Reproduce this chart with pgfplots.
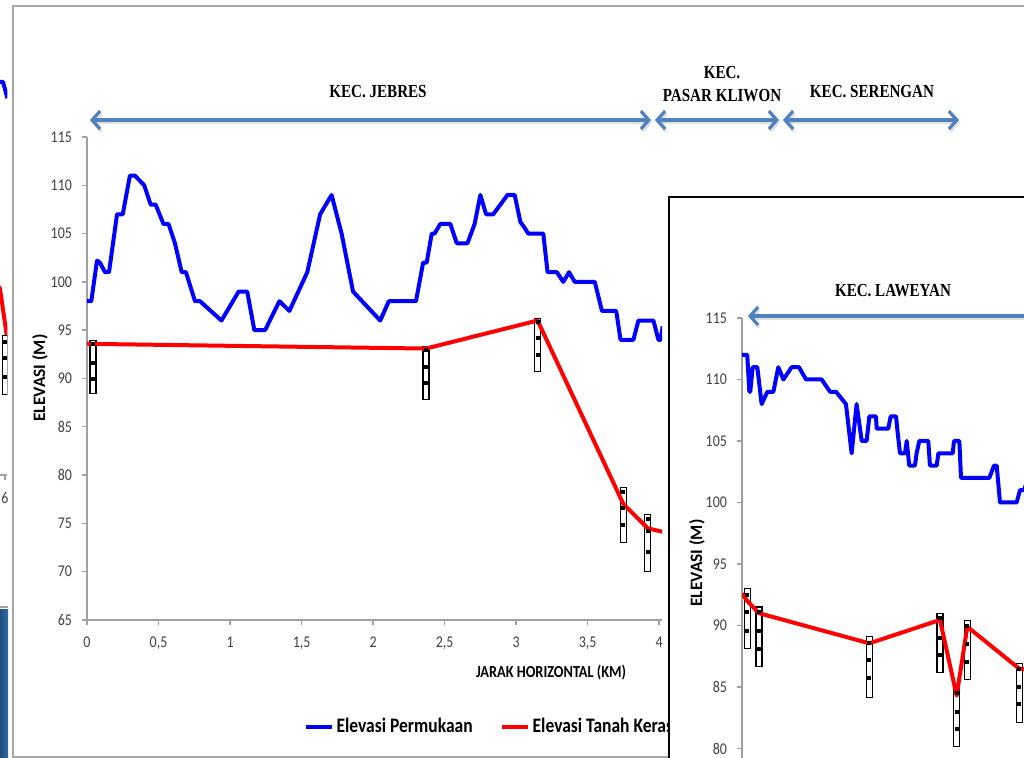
\documentclass[border=0pt]{standalone}
\usepackage{fontspec}
\setmainfont{Carlito}[FakeStretch=0.85]
\newfontfamily\ylfont{Carlito}
\newfontfamily\serifc{Liberation Serif}[FakeStretch=0.82]
\usepackage{pgfplots}
\pgfplotsset{compat=1.18}
\usetikzlibrary{arrows.meta}
\definecolor{arrowblue}{HTML}{4F81BD}
\definecolor{axgray}{HTML}{A0A0A0}
\definecolor{ticktext}{HTML}{404040}
\definecolor{slideblue}{HTML}{1F4E7E}
\definecolor{slideblueL}{HTML}{2F6DA6}

\pgfplotsset{
  elevstyle/.style={
    scale only axis,
    axis x line*=bottom, axis y line*=left,
    axis line style={axgray, line width=0.7pt},
    tick style={axgray, line width=0.7pt},
    tick align=outside, major tick length=2.5pt,
    ticklabel style={font=\fontsize{8.2}{9}\selectfont, text=ticktext},
    xticklabel style={yshift=-2.5pt},
    yticklabel style={xshift=-1.5pt},
    /pgf/number format/assume math mode=true,
    /pgf/number format/use comma,
    /pgf/number format/1000 sep={},
  },
  bluel/.style={color=blue, line width=2pt, line join=round},
  redl/.style={color=red, line width=2pt, line join=round},
  bh/.style={draw=black, fill=white, line width=0.55pt, forget plot},
  bhm/.style={only marks, mark=square*, mark size=0.75pt, black, forget plot},
}

\begin{document}
\begin{tikzpicture}
\useasboundingbox (0,0) rectangle (512pt,379pt);
\clip (0,0) rectangle (512pt,379pt);

% ---------- left sliver (neighbouring chart) ----------
\fill[left color=slideblue, right color=slideblueL] (0pt,0pt) rectangle (4pt,74pt);
\draw[axgray, line width=0.6pt] (0pt,75.5pt) -- (4pt,75.5pt);
\begin{axis}[elevstyle, at={(-69pt,141.5pt)}, anchor=south west,
  width=72.7pt, height=241.5pt, xmin=5, xmax=6.017, ymin=65, ymax=115,
  xtick={6}, ytick=\empty]
\addplot[bluel] coordinates {(5.95,105.7) (5.986,105.7) (6.017,104.0)};
\addplot[redl] coordinates {(5.95,84.6) (5.965,84.3) (6.014,79.3)};
\addplot[bh] coordinates {(5.985,79.4) (6.015,79.4) (6.015,73.3) (5.985,73.3)} -- cycle;
\addplot[bhm] coordinates {(6.0,78.8) (6.0,77.1) (6.0,75.2)};
\end{axis}

% ---------- main frame ----------
\draw[gray!70, line width=0.7pt] (6.5pt,0.5pt) rectangle (560pt,376pt);

% ---------- main chart ----------
\begin{axis}[elevstyle, at={(43.5pt,69pt)}, anchor=south west,
  width=287.5pt, height=241.5pt,
  xmin=0, xmax=4.02, ymin=65, ymax=115,
  xtick={0,0.5,1,1.5,2,2.5,3,3.5,4},
  ytick={65,70,75,80,85,90,95,100,105,110,115},
  xlabel={JARAK HORIZONTAL (KM)},
  xlabel style={at={(axis description cs:0.807,-0.1097)}, anchor=center,
    font=\bfseries\fontsize{8.4}{9}\selectfont},
  ylabel={ELEVASI (M)},
  ylabel style={at={(axis description cs:-0.0817,0.501)}, anchor=center,
    font=\ylfont\bfseries\fontsize{8.7}{9}\selectfont},
  legend style={at={(axis description cs:0.376,-0.2215)}, anchor=west,
    draw=none, fill=none, inner sep=0pt, legend columns=2,
    font=\bfseries\fontsize{10.3}{12}\selectfont,
    nodes={inner xsep=1.5pt},
    /tikz/every even column/.append style={column sep=12pt}},
  legend image code/.code={\draw[#1] (0pt,0pt) -- (13pt,0pt);},
]
\addplot[bluel] coordinates {
(0,98) (0.03,98) (0.07,102.2) (0.09,102) (0.126,101) (0.154,101) (0.21,107)
(0.25,107) (0.30,111) (0.335,111) (0.40,110) (0.445,108) (0.48,108) (0.534,106)
(0.57,106) (0.615,104) (0.662,101) (0.692,101) (0.755,98) (0.79,98) (0.94,96)
(1.06,99) (1.12,99) (1.17,95) (1.245,95) (1.345,98) (1.415,97) (1.54,101)
(1.63,107) (1.71,109) (1.78,105) (1.86,99) (2.05,96) (2.11,98) (2.30,98)
(2.35,102) (2.375,102) (2.41,105) (2.43,105) (2.47,106) (2.54,106) (2.585,104)
(2.66,104) (2.71,106) (2.75,109) (2.79,107) (2.84,107) (2.94,109) (2.99,109)
(3.03,106.2) (3.05,105.8) (3.085,105) (3.19,105) (3.22,101) (3.285,101)
(3.33,100) (3.37,101) (3.41,100) (3.55,100) (3.60,97) (3.70,97) (3.73,94)
(3.82,94) (3.855,96) (3.96,96) (3.995,94) (4.01,94) (4.025,95.4)};
\addlegendentry{Elevasi Permukaan}
% boreholes
\addplot[bh] coordinates {(0.021,93.9) (0.063,93.9) (0.063,88.4) (0.021,88.4)} -- cycle;
\addplot[bh] coordinates {(2.349,93.3) (2.391,93.3) (2.391,87.8) (2.349,87.8)} -- cycle;
\addplot[bh] coordinates {(3.129,96.2) (3.171,96.2) (3.171,90.7) (3.129,90.7)} -- cycle;
\addplot[bh] coordinates {(3.729,78.7) (3.771,78.7) (3.771,73.0) (3.729,73.0)} -- cycle;
\addplot[bh] coordinates {(3.899,75.9) (3.941,75.9) (3.941,70.0) (3.899,70.0)} -- cycle;
\addplot[redl] coordinates {
(0,93.6) (0.042,93.58) (2.37,93.1) (3.15,96.0) (3.75,77.0) (3.92,74.5) (4.03,74.1)};
\addlegendentry{Elevasi Tanah Keras}
\addplot[bhm] coordinates {
(0.042,93.6) (0.042,91.6) (0.042,90.0)
(2.37,93.0) (2.37,91.2) (2.37,89.5)
(3.15,95.9) (3.15,94.2) (3.15,92.4)
(3.75,78.3) (3.75,76.6) (3.75,74.8)
(3.92,75.5) (3.92,74.2) (3.92,72.1)};
\end{axis}

% ---------- district arrows (main) ----------
\begin{scope}[line width=1.6pt, arrows={Straight Barb[length=4pt,width=9pt]-Straight Barb[length=4pt,width=9pt]}]
\draw[black!12, shift={(0.6pt,-1.2pt)}] (45pt,319pt) -- (325.5pt,319pt);
\draw[black!12, shift={(0.6pt,-1.2pt)}] (327.5pt,319pt) -- (389.5pt,319pt);
\draw[black!12, shift={(0.6pt,-1.2pt)}] (391.5pt,319pt) -- (479.5pt,319pt);
\draw[arrowblue] (45pt,319pt) -- (325.5pt,319pt);
\draw[arrowblue] (327.5pt,319pt) -- (389.5pt,319pt);
\draw[arrowblue] (391.5pt,319pt) -- (479.5pt,319pt);
\end{scope}
\begin{scope}[font=\serifc\bfseries\fontsize{9.2}{10}\selectfont]
\node at (189pt,333pt) {KEC. JEBRES};
\node at (361pt,342.5pt) {KEC.};
\node at (361pt,331pt) {PASAR KLIWON};
\node at (436pt,333pt) {KEC. SERENGAN};
\end{scope}

% ---------- inset frame ----------
\filldraw[fill=white, draw=black, line width=1pt] (334.5pt,280.5pt) rectangle (560pt,-20pt);

% ---------- inset chart ----------
\begin{axis}[elevstyle, at={(371pt,-26pt)}, anchor=south west,
  width=150pt, height=246pt,
  xmin=0, xmax=2, ymin=75, ymax=115,
  xtick=\empty,
  ytick={80,85,90,95,100,105,110,115},
  ylabel={ELEVASI (M)},
  ylabel style={at={(axis description cs:-0.15,0.502)}, anchor=center,
    font=\ylfont\bfseries\fontsize{8.7}{9}\selectfont},
]
\addplot[bluel] coordinates {
(0,112) (0.035,112) (0.049,109) (0.055,109) (0.071,111) (0.102,111) (0.131,108)
(0.169,109) (0.209,109) (0.242,111) (0.276,110) (0.331,111) (0.38,111)
(0.427,110) (0.531,110) (0.587,109) (0.627,109) (0.693,108) (0.731,104)
(0.764,108) (0.798,105) (0.831,105) (0.849,107) (0.893,107) (0.898,106)
(0.975,106) (0.991,107) (1.027,107) (1.035,106) (1.053,104) (1.087,104)
(1.098,105) (1.115,103) (1.153,103) (1.164,104) (1.182,105) (1.242,105)
(1.253,103) (1.298,103) (1.309,104) (1.405,104) (1.413,105) (1.449,105)
(1.46,102) (1.649,102) (1.68,103) (1.698,103) (1.72,100) (1.831,100)
(1.853,101) (1.88,101) (1.9,101.7)};
\addplot[bh] coordinates {(0.015,93.0) (0.055,93.0) (0.055,88.1) (0.015,88.1)} -- cycle;
\addplot[bh] coordinates {(0.093,91.5) (0.133,91.5) (0.133,86.65) (0.093,86.65)} -- cycle;
\addplot[bh] coordinates {(0.829,89.1) (0.869,89.1) (0.869,84.15) (0.829,84.15)} -- cycle;
\addplot[bh] coordinates {(1.30,91.0) (1.34,91.0) (1.34,86.2) (1.30,86.2)} -- cycle;
\addplot[bh] coordinates {(1.411,84.9) (1.451,84.9) (1.451,80.15) (1.411,80.15)} -- cycle;
\addplot[bh] coordinates {(1.482,90.4) (1.522,90.4) (1.522,85.6) (1.482,85.6)} -- cycle;
\addplot[bh] coordinates {(1.827,86.9) (1.867,86.9) (1.867,82.1) (1.827,82.1)} -- cycle;
\addplot[redl] coordinates {
(0,92.6) (0.035,92.0) (0.113,91.0) (0.849,88.55) (1.32,90.45) (1.431,84.3)
(1.502,89.9) (1.847,86.5) (1.9,86.4)};
\addplot[bhm] coordinates {
(0.035,92.5) (0.035,91.1) (0.035,89.6)
(0.113,91.1) (0.113,89.6) (0.113,88.1)
(0.849,88.6) (0.849,87.2) (0.849,85.7)
(1.32,90.6) (1.32,89.0) (1.32,87.6)
(1.431,84.5) (1.431,83.0) (1.431,81.6)
(1.502,90.0) (1.502,88.5) (1.502,87.0)
(1.847,86.5) (1.847,85.0) (1.847,83.6)};
\end{axis}

% ---------- inset district arrow ----------
\draw[black!12, line width=1.6pt, shift={(0.6pt,-1.2pt)}, arrows={Straight Barb[length=4pt,width=9pt]-}] (374pt,221pt) -- (530pt,221pt);
\draw[arrowblue, line width=1.6pt, arrows={Straight Barb[length=4pt,width=9pt]-}] (374pt,221pt) -- (530pt,221pt);
\node[font=\serifc\bfseries\fontsize{9.2}{10}\selectfont] at (446.5pt,233.5pt) {KEC. LAWEYAN};
\end{tikzpicture}
\end{document}
